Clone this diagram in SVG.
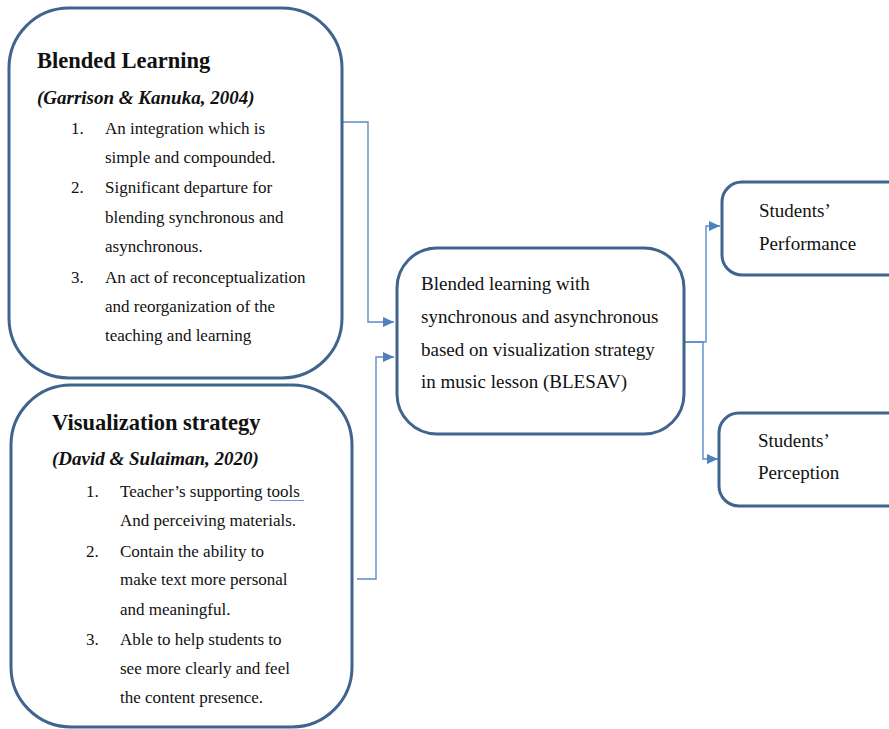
<svg xmlns="http://www.w3.org/2000/svg" width="889" height="729" viewBox="0 0 889 729">
  <style>
    .box { fill: #ffffff; stroke: #41648f; stroke-width: 3; }
    .conn { fill: none; stroke: #5b8ccb; stroke-width: 1.4; }
    text { font-family: "Liberation Serif", "Times New Roman", serif; fill: #111111; }
    .title { font-size: 22.5px; font-weight: bold; }
    .cite { font-size: 19px; font-weight: bold; font-style: italic; }
    .body { font-size: 17px; }
    .main { font-size: 19px; }
  </style>
  <defs>
    <marker id="arrow" markerUnits="userSpaceOnUse" markerWidth="12" markerHeight="10" refX="11" refY="5" orient="auto">
      <path d="M0,0 L11,5 L0,10 Z" fill="#4f81bd"/>
    </marker>
  </defs>

  <rect width="889" height="729" fill="#ffffff"/>

  <!-- connectors -->
  <g id="connectors">
    <path class="conn" d="M342,122 H368 V322 H394" marker-end="url(#arrow)"/>
    <path class="conn" d="M357,579 H376 V357 H394" marker-end="url(#arrow)"/>
    <path class="conn" d="M685,342 H706 V226 H720" marker-end="url(#arrow)"/>
    <path class="conn" d="M685,342 H703 V459 H718" marker-end="url(#arrow)"/>
  </g>

  <!-- Blended Learning -->
  <g id="blended-learning">
    <rect class="box" x="9" y="8" width="333" height="370" rx="60" ry="60"/>
    <text class="title" x="37" y="68">Blended Learning</text>
    <text class="cite" x="37" y="104">(Garrison &amp; Kanuka, 2004)</text>
    <text class="body" x="71" y="134">1.</text>
    <text class="body" x="105" y="134">An integration which is</text>
    <text class="body" x="105" y="163">simple and compounded.</text>
    <text class="body" x="71" y="193">2.</text>
    <text class="body" x="105" y="193">Significant departure for</text>
    <text class="body" x="105" y="223">blending synchronous and</text>
    <text class="body" x="105" y="252">asynchronous.</text>
    <text class="body" x="71" y="283">3.</text>
    <text class="body" x="105" y="283">An act of reconceptualization</text>
    <text class="body" x="105" y="312">and reorganization of the</text>
    <text class="body" x="105" y="341">teaching and learning</text>
  </g>

  <!-- Visualization strategy -->
  <g id="visualization-strategy">
    <rect class="box" x="11" y="385" width="341" height="342" rx="60" ry="60"/>
    <text class="title" x="52" y="430">Visualization strategy</text>
    <text class="cite" x="52" y="465">(David &amp; Sulaiman, 2020)</text>
    <text class="body" x="86" y="497">1.</text>
    <text class="body" x="120" y="497">Teacher’s supporting tools</text>
    <line x1="270" y1="500.5" x2="304" y2="500.5" stroke="#6f8fdc" stroke-width="1"/>
    <text class="body" x="120" y="526">And perceiving materials.</text>
    <text class="body" x="86" y="557">2.</text>
    <text class="body" x="120" y="557">Contain the ability to</text>
    <text class="body" x="120" y="585">make text more personal</text>
    <text class="body" x="120" y="615">and meaningful.</text>
    <text class="body" x="86" y="645">3.</text>
    <text class="body" x="120" y="645">Able to help students to</text>
    <text class="body" x="120" y="674">see more clearly and feel</text>
    <text class="body" x="120" y="703">the content presence.</text>
  </g>

  <!-- BLESAV -->
  <g id="blesav">
    <rect class="box" x="397" y="248" width="287" height="186" rx="40" ry="40"/>
    <text class="main" x="421" y="290">Blended learning with</text>
    <text class="main" x="421" y="323">synchronous and asynchronous</text>
    <text class="main" x="421" y="356">based on visualization strategy</text>
    <text class="main" x="421" y="388">in music lesson (BLESAV)</text>
  </g>

  <!-- Students' Performance -->
  <g id="performance">
    <rect class="box" x="722" y="182" width="200" height="93" rx="20" ry="20"/>
    <text class="main" x="759" y="217">Students’</text>
    <text class="main" x="759" y="250">Performance</text>
  </g>

  <!-- Students' Perception -->
  <g id="perception">
    <rect class="box" x="719" y="413" width="200" height="93" rx="20" ry="20"/>
    <text class="main" x="758" y="447">Students’</text>
    <text class="main" x="758" y="479">Perception</text>
  </g>
</svg>
